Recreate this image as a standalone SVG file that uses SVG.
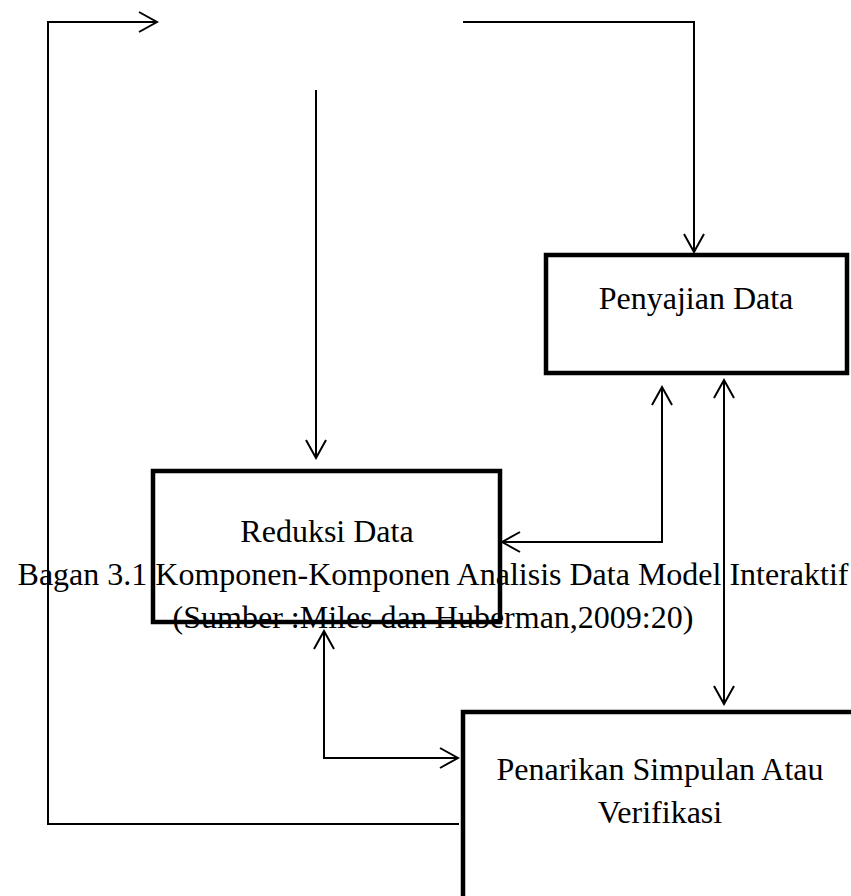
<svg xmlns="http://www.w3.org/2000/svg" width="851" height="896" viewBox="0 0 851 896">
<style>
.box{fill:none;stroke:#000;stroke-width:4.5}
.conn{fill:none;stroke:#000;stroke-width:2}
.lbl{font-family:"Liberation Serif","Times New Roman",serif;font-size:32px;fill:#000;text-anchor:middle}
</style>
<defs>
<marker id="arr" markerUnits="userSpaceOnUse" viewBox="-20 -12 22 24" refX="0" refY="0" markerWidth="22" markerHeight="24" orient="auto-start-reverse">
<path d="M-18,-10 L0,0 L-18,10" fill="none" stroke="#000" stroke-width="2"/>
</marker>
</defs>
<rect width="851" height="896" fill="#fff"/>
<g id="connectors">
<path class="conn" d="M459,824 L48,824 L48,22 L157,22" marker-end="url(#arr)"/>
<path class="conn" d="M463,22 L694,22 L694,252" marker-end="url(#arr)"/>
<path class="conn" d="M316,90 L316,458" marker-end="url(#arr)"/>
<path class="conn" d="M662,387 L662,542 L502,542" marker-start="url(#arr)" marker-end="url(#arr)"/>
<path class="conn" d="M724,380 L724,704" marker-start="url(#arr)" marker-end="url(#arr)"/>
<path class="conn" d="M324,631 L324,758 L458,758" marker-start="url(#arr)" marker-end="url(#arr)"/>
</g>
<g id="penyajian">
<rect class="box" x="546" y="255" width="301" height="118"/>
<text class="lbl" x="696" y="309">Penyajian Data</text>
</g>
<g id="reduksi">
<rect class="box" x="153" y="471" width="347" height="151"/>
<text class="lbl" x="327" y="542">Reduksi Data</text>
</g>
<g id="penarikan">
<rect class="box" x="463" y="712" width="420" height="250"/>
<text class="lbl" x="660" y="780">Penarikan Simpulan Atau</text>
<text class="lbl" x="660" y="823">Verifikasi</text>
</g>
<g id="caption">
<text class="lbl" x="433" y="585">Bagan 3.1 Komponen-Komponen Analisis Data Model Interaktif</text>
<text class="lbl" x="433" y="628">(Sumber :Miles dan Huberman,2009:20)</text>
</g>
</svg>
